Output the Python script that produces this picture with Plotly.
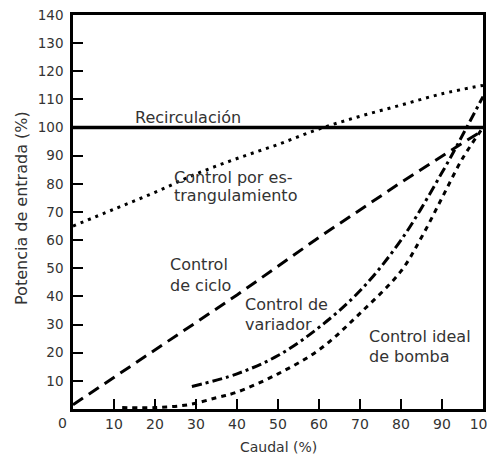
import plotly.graph_objects as go

# data (Caudal %, Potencia de entrada %)
caudal_recirc = [0, 100]
pot_recirc = [100, 100]

caudal_estr = [0, 10, 20, 30, 40, 50, 60, 70, 80, 90, 100]
pot_estr = [65, 71, 77, 83.5, 89, 94, 99.5, 104, 108, 112, 115]

caudal_ciclo = [0, 20, 40, 60, 80, 95, 100]
pot_ciclo = [1.5, 21, 40.5, 61, 80.5, 94.5, 99]

caudal_var = [29, 40, 50, 60, 70, 80, 90, 96, 100]
pot_var = [8, 12.5, 19, 29, 42, 60, 84, 100, 111]

caudal_ideal = [12, 20, 28, 35, 40, 50, 60, 70, 80, 85, 90, 95, 100]
pot_ideal = [0.5, 0.5, 1.5, 4, 6, 12.5, 21, 34, 49, 61, 75, 89, 100]

x_ticks = [10, 20, 30, 40, 50, 60, 70, 80, 90, 100]
y_ticks = [10, 20, 30, 40, 50, 60, 70, 80, 90, 100, 110, 120, 130, 140]

FONT = "DejaVu Sans"
TXT = "#333333"

fig = go.Figure()

fig.add_trace(go.Scatter(x=caudal_recirc, y=pot_recirc, mode="lines",
                         line=dict(color="black", width=3.5)))
fig.add_trace(go.Scatter(x=caudal_estr, y=pot_estr, mode="lines", line_shape="spline",
                         line=dict(color="black", width=3, dash="3px,5px")))
fig.add_trace(go.Scatter(x=caudal_ciclo, y=pot_ciclo, mode="lines",
                         line=dict(color="black", width=3, dash="12px,7px")))
fig.add_trace(go.Scatter(x=caudal_var, y=pot_var, mode="lines", line_shape="spline",
                         line=dict(color="black", width=3, dash="10px,4px,3px,4px")))
fig.add_trace(go.Scatter(x=caudal_ideal, y=pot_ideal, mode="lines", line_shape="spline",
                         line=dict(color="black", width=3, dash="5px,5px")))

# curve labels, one line each (left x, middle y)
labels = [
    (14.6, 103.6, "Recirculación"),
    (24.1, 82.4, "Control por es-"),
    (24.1, 76.0, "trangulamiento"),
    (23.2, 51.2, "Control"),
    (23.2, 44.0, "de ciclo"),
    (41.5, 37.3, "Control de"),
    (41.5, 30.2, "variador"),
    (71.7, 25.6, "Control ideal"),
    (71.7, 18.5, "de bomba"),
]
for x, y, t in labels:
    fig.add_annotation(x=x, y=y, text=t, showarrow=False, xanchor="left", yanchor="middle",
                       font=dict(family=FONT, size=16, color=TXT))

fig.add_annotation(x=0, y=0, text="0", showarrow=False, xshift=-11, yshift=-14,
                   font=dict(family=FONT, size=14, color=TXT))

# axis titles
fig.add_annotation(x=0.502, y=-0.096, xref="paper", yref="paper", text="Caudal (%)",
                   xanchor="center", yanchor="middle",
                   showarrow=False, font=dict(family=FONT, size=14, color=TXT))
fig.add_annotation(x=-0.127, y=0.51, xref="paper", yref="paper", text="Potencia de entrada (%)",
                   xanchor="center", yanchor="middle",
                   textangle=-90, showarrow=False, font=dict(family=FONT, size=16, color=TXT))

# page body has an 8px margin, so the figure is sized to the visible area
fig.update_layout(
    width=487, height=448,
    margin=dict(l=65, r=12, t=7, b=47),
    plot_bgcolor="white", paper_bgcolor="white",
    showlegend=False,
)
fig.update_xaxes(range=[0, 100], tickvals=x_ticks, ticks="inside", ticklen=10, tickwidth=1.5,
                 tickcolor="black", showline=True, linecolor="black", linewidth=2.5, mirror=True,
                 showgrid=False, zeroline=False, automargin=False, ticklabeloverflow="allow",
                 tickfont=dict(family=FONT, size=14, color=TXT))
fig.update_yaxes(range=[0, 140], tickvals=y_ticks, ticks="inside", ticklen=10, tickwidth=1.5,
                 tickcolor="black", showline=True, linecolor="black", linewidth=2.5, mirror=True,
                 showgrid=False, zeroline=False, automargin=False, ticklabelstandoff=4,
                 ticklabeloverflow="allow",
                 tickfont=dict(family=FONT, size=13.5, color=TXT))

fig.write_html("out.html")
